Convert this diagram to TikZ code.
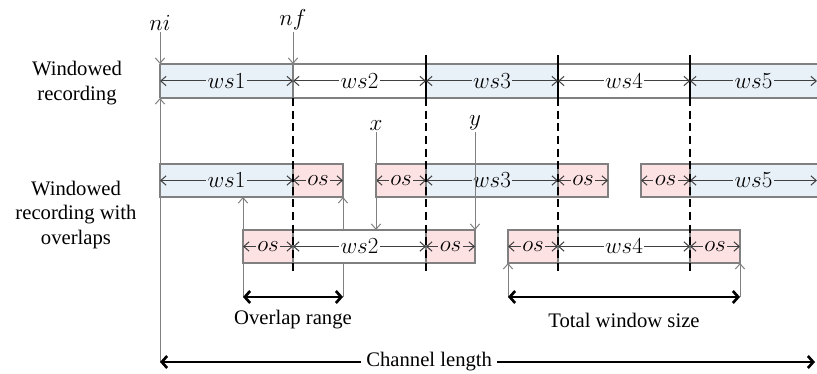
\documentclass[tikz,border=0pt]{standalone}
\usepackage{fontspec}
\setmainfont{LiberationSerif}[Extension=.ttf, UprightFont=*-Regular, BoldFont=*-Bold, ItalicFont=*-Italic, BoldItalicFont=*-BoldItalic]
\usetikzlibrary{arrows.meta}

\definecolor{wsblue}{RGB}{232,240,248}
\definecolor{ospink}{RGB}{253,226,228}
\definecolor{linegray}{RGB}{128,128,128}
\definecolor{tipgray}{RGB}{64,64,64}

\tikzset{
    box/.style={draw=linegray, line width=0.8pt},
    dim/.style={tipgray, line width=0.75pt, {Straight Barb[length=4pt,width=7pt]}-{Straight Barb[length=4pt,width=7pt]}},
    guide/.style={linegray, line width=0.75pt, -{Straight Barb[length=4pt,width=7pt]}},
    cut/.style={black, line width=0.8pt, dash pattern=on 6pt off 3.5pt},
    bar/.style={black, line width=0.8pt},
    lbl/.style={font=\fontsize{18}{21}\selectfont, text=black, inner sep=1pt},
    big/.style={black, line width=2pt, {Straight Barb[length=4pt,width=9pt]}-{Straight Barb[length=4pt,width=9pt]}}
}

\begin{document}
\begin{tikzpicture}[x=0.75pt,y=-0.75pt,font=\fontsize{15.5}{18.5}\selectfont]
    \useasboundingbox (0,0) rectangle (817,374);

    % markers on top
    \coordinate (ni) at (160,32);
    \coordinate (nf) at (293,32);
    \coordinate (niA) at (160,64);
    \coordinate (niB) at (160,98);
    \coordinate (nfA) at (293,64);
    \coordinate (nfB) at (293,98);
    \coordinate (xs) at (376,132);
    \coordinate (xe) at (376,230);
    \coordinate (ys) at (475,132);
    \coordinate (ye) at (475,230);
    % feet of the ranges
    \coordinate (ovL) at (243,297);
    \coordinate (ovR) at (343,297);
    \coordinate (twL) at (508,297);
    \coordinate (twR) at (740,297);
    \coordinate (ovLt) at (243,197);
    \coordinate (ovRt) at (343,197);
    \coordinate (twLt) at (508,263);
    \coordinate (twRt) at (740,263);
    \coordinate (chL) at (160,362);
    \coordinate (chR) at (815,362);

    \draw[guide] (ovL) -- (ovLt);
    \draw[guide] (ovR) -- (ovRt);
    \draw[guide] (twL) -- (twLt);
    \draw[guide] (twR) -- (twRt);
    \draw[guide] (chL) -- (niB);

    % windowed recording
    \fill[wsblue] (160,64) rectangle (293,98);
    \fill[wsblue] (426,64) rectangle (558,98);
    \fill[wsblue] (690,64) rectangle (818,98);
    \draw[box] (160,64) -- (818,64);
    \draw[box] (160,98) -- (818,98);
    \draw[box] (niA) -- (niB);
    \draw[box] (nfA) -- (nfB);
    \foreach \xx in {426,558,690}
        \draw[bar] (\xx,55) -- (\xx,98);

    \draw[dim] (160,81) -- node[lbl,fill=wsblue] (a1) {$ws1$} (293,81);
    \draw[dim] (293,81) -- node[lbl,fill=white] (a2) {$ws2$} (426,81);
    \draw[dim] (426,81) -- node[lbl,fill=wsblue] (a3) {$ws3$} (558,81);
    \draw[dim] (558,81) -- node[lbl,fill=white] (a4) {$ws4$} (690,81);
    \draw[dim] (690,81) -- node[lbl,fill=wsblue] (a5) {$ws5$} (817,81);

    % windowed recording with overlaps, first line
    \filldraw[box,fill=wsblue] (160,164) rectangle (293,197);
    \filldraw[box,fill=ospink] (293,164) rectangle (343,197);
    \filldraw[box,fill=ospink] (376,164) rectangle (426,197);
    \filldraw[box,fill=wsblue] (426,164) rectangle (558,197);
    \filldraw[box,fill=ospink] (558,164) rectangle (608,197);
    \filldraw[box,fill=ospink] (641,164) rectangle (690,197);
    \filldraw[box,fill=wsblue] (690,164) rectangle (819,197);

    \draw[dim] (160,180.5) -- node[lbl,fill=wsblue] (b1) {$ws1$} (293,180.5);
    \draw[dim] (293,180.5) -- node[lbl,fill=ospink] (b2) {$os$} (343,180.5);
    \draw[dim] (376,180.5) -- node[lbl,fill=ospink] (b3) {$os$} (426,180.5);
    \draw[dim] (426,180.5) -- node[lbl,fill=wsblue] (b4) {$ws3$} (558,180.5);
    \draw[dim] (558,180.5) -- node[lbl,fill=ospink] (b5) {$os$} (608,180.5);
    \draw[dim] (641,180.5) -- node[lbl,fill=ospink] (b6) {$os$} (690,180.5);
    \draw[dim] (690,180.5) -- node[lbl,fill=wsblue] (b7) {$ws5$} (817,180.5);

    % second line
    \filldraw[box,fill=ospink] (243,230) rectangle (293,263);
    \filldraw[box,fill=white] (293,230) rectangle (426,263);
    \filldraw[box,fill=ospink] (426,230) rectangle (475,263);
    \filldraw[box,fill=ospink] (508,230) rectangle (558,263);
    \filldraw[box,fill=white] (558,230) rectangle (690,263);
    \filldraw[box,fill=ospink] (690,230) rectangle (740,263);

    \draw[dim] (243,246.5) -- node[lbl,fill=ospink] (c1) {$os$} (293,246.5);
    \draw[dim] (293,246.5) -- node[lbl,fill=white] (c2) {$ws2$} (426,246.5);
    \draw[dim] (426,246.5) -- node[lbl,fill=ospink] (c3) {$os$} (475,246.5);
    \draw[dim] (508,246.5) -- node[lbl,fill=ospink] (c4) {$os$} (558,246.5);
    \draw[dim] (558,246.5) -- node[lbl,fill=white] (c5) {$ws4$} (690,246.5);
    \draw[dim] (690,246.5) -- node[lbl,fill=ospink] (c6) {$os$} (740,246.5);

    \foreach \xx in {293,426,558,690}
        \draw[cut] (\xx,98) -- (\xx,272);

    % pointers
    \draw[guide] (ni) -- (niA);
    \draw[guide] (nf) -- (nfA);
    \draw[guide] (xs) -- (xe);
    \draw[guide] (ys) -- (ye);
    \node[lbl,above] (niT) at (ni) {$ni$};
    \node[lbl,above] (nfT) at (nf) {$nf$};
    \node[lbl,above] (xT) at (xs) {$x$};
    \node[lbl,above] (yT) at (ys) {$y$};

    % row names
    \node[align=center] (row1) at (77,83) {Windowed\\recording};
    \node[align=center] (row2) at (76,215) {Windowed\\recording with\\overlaps};

    % ranges
    \draw[big] (ovL) -- (ovR);
    \draw[big] (twL) -- (twR);
    \node (ovT) at (293,320) {Overlap range};
    \node (twT) at (624,320) {Total window size};
    \draw[big] (chL) -- node[pos=0.411,fill=white,inner sep=4pt] (chT) {Channel length} (chR);

\end{tikzpicture}
\end{document}
